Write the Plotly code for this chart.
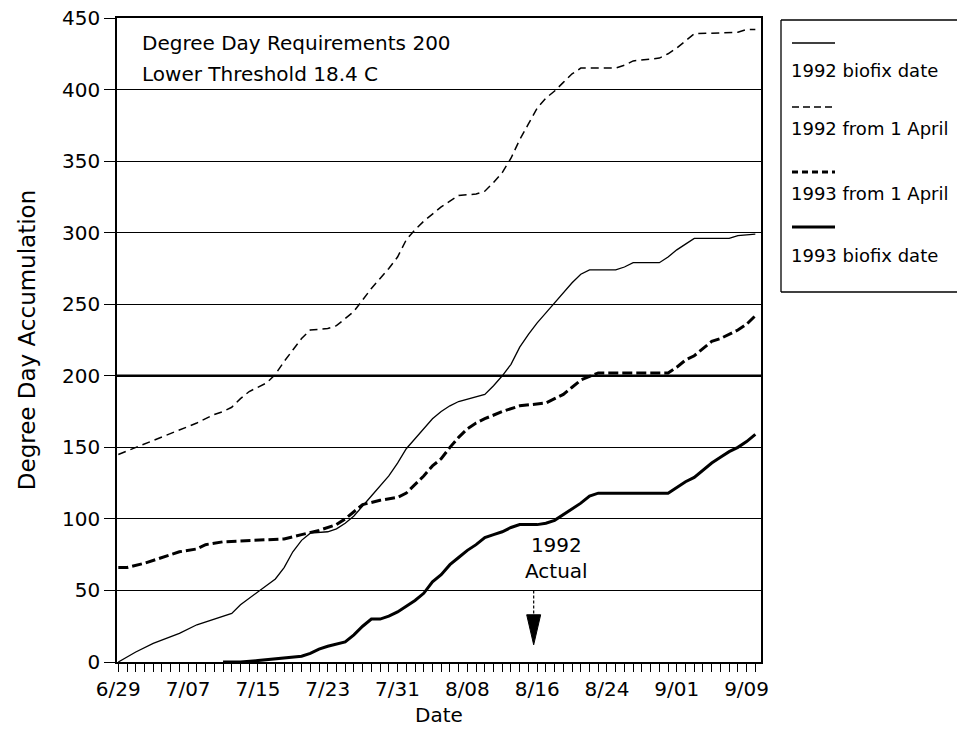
import plotly.graph_objects as go

# ---------------- data (day offsets from 6/29) ----------------
TICK_DAYS = [0, 8, 16, 24, 32, 40, 48, 56, 64, 72]
TICK_LABELS = ["6/29", "7/07", "7/15", "7/23", "7/31", "8/08", "8/16", "8/24", "9/01", "9/09"]
Y_TICKS = [0, 50, 100, 150, 200, 250, 300, 350, 400, 450]

# 1992 biofix date (thin solid)
b92_days = [0, 2, 4, 6, 7, 9, 11, 13, 14, 16, 18, 19, 20, 21, 22, 24, 25, 26, 27, 29, 31, 32, 33, 34,
            35, 36, 37, 38, 39, 41, 42, 43, 44, 45, 46, 47, 48, 49, 50, 51, 52, 53, 54, 57, 58, 59,
            62, 63, 64, 65, 66, 70, 71, 73]
b92_vals = [0, 7, 13, 18, 20, 26, 30, 34, 40, 49, 58, 66, 77, 85, 90, 91, 93, 97, 102, 116, 130, 139,
            149, 156, 163, 170, 175, 179, 182, 185, 187, 193, 200, 208, 220, 229, 237, 244, 251, 258,
            265, 271, 274, 274, 276, 279, 279, 283, 288, 292, 296, 296, 298, 299]

# 1992 from 1 April (thin dashed)
a92_days = [0, 2, 4, 6, 7, 9, 11, 12, 13, 14, 15, 17, 18, 19, 20, 21, 22, 24, 25, 26, 27, 28, 29, 30,
            31, 32, 33, 34, 35, 36, 37, 38, 39, 41, 42, 43, 44, 45, 46, 47, 48, 49, 50, 51, 52, 53,
            57, 58, 59, 62, 63, 64, 65, 66, 71, 72, 73]
a92_vals = [145, 150, 155, 160, 162, 167, 173, 175, 178, 184, 189, 195, 201, 210, 218, 226, 232, 233,
            235, 240, 245, 253, 261, 268, 275, 283, 295, 302, 308, 313, 318, 322, 326, 327, 329, 335,
            342, 352, 365, 376, 387, 394, 399, 405, 411, 415, 415, 417, 420, 422, 425, 429, 434, 439,
            440, 442, 442]

# 1993 from 1 April (thick dashed)
a93_days = [0, 1, 3, 5, 7, 9, 10, 12, 16, 19, 21, 23, 25, 26, 27, 28, 30, 32, 33, 34, 35, 36, 37, 38,
            39, 40, 41, 42, 44, 46, 48, 49, 50, 51, 52, 53, 55, 63, 64, 65, 66, 67, 68, 69, 70, 71,
            72, 73]
a93_vals = [66, 66, 69, 73, 77, 79, 82, 84, 85, 86, 89, 92, 96, 100, 105, 110, 113, 115, 118, 124, 130,
            137, 142, 150, 157, 163, 167, 170, 175, 179, 180, 181, 184, 187, 192, 197, 202, 202, 206,
            211, 214, 219, 224, 226, 229, 232, 236, 242]

# 1993 biofix date (thick solid)
b93_days = [12, 14, 16, 18, 19, 21, 22, 23, 24, 26, 27, 28, 29, 30, 31, 32, 33, 34, 35, 36, 37, 38,
            39, 40, 41, 42, 43, 44, 45, 46, 48, 49, 50, 51, 52, 53, 54, 55, 63, 64, 65, 66, 67, 68,
            69, 70, 71, 72, 73]
b93_vals = [0, 0, 1, 2, 3, 4, 6, 9, 11, 14, 19, 25, 30, 30, 32, 35, 39, 43, 48, 56, 61, 68, 73, 78,
            82, 87, 89, 91, 94, 96, 96, 97, 99, 103, 107, 111, 116, 118, 118, 122, 126, 129, 134,
            139, 143, 147, 150, 154, 159]

SERIES_NAMES = ["1992 biofix date", "1992 from 1 April", "1993 from 1 April", "1993 biofix date"]
REQUIREMENT = 200
ACTUAL_DAY = 47.6

# ---------------- layout geometry ----------------
W, H = 959, 736
PL, PR, PT, PB = 117, 761, 18, 662  # plot area in px
FONT = "DejaVu Sans"


def px(xp):
    return (xp - PL) / (PR - PL)


def py(yp):
    return (PB - yp) / (PB - PT)


styles = [
    dict(width=1.3, dash="solid"),
    dict(width=1.5, dash="8px,5px"),
    dict(width=3.0, dash="10px,4px"),
    dict(width=3.0, dash="solid"),
]
data = [(b92_days, b92_vals), (a92_days, a92_vals), (a93_days, a93_vals), (b93_days, b93_vals)]

fig = go.Figure()
for (d, v), name, st in zip(data, SERIES_NAMES, styles):
    fig.add_trace(go.Scatter(x=d, y=v, mode="lines", name=name, showlegend=False,
                             line=dict(color="black", width=st["width"], dash=st["dash"])))

shapes = []
# requirement line (thicker)
shapes.append(dict(type="line", xref="paper", x0=0, x1=1, yref="y", y0=REQUIREMENT, y1=REQUIREMENT,
                   line=dict(color="black", width=2.6), layer="below"))
# arrow for 1992 actual
shapes.append(dict(type="line", xref="x", yref="y", x0=ACTUAL_DAY, x1=ACTUAL_DAY, y0=50, y1=33,
                   line=dict(color="black", width=1.2, dash="3px,2px")))
shapes.append(dict(type="path", xref="x", yref="y",
                   path=f"M {ACTUAL_DAY-0.8},33 L {ACTUAL_DAY+0.8},33 L {ACTUAL_DAY},12 Z",
                   fillcolor="black", line=dict(color="black", width=1)))
# legend box, open on the right (it runs off the page in the original)
bx0, bx1, by0, by1 = px(781), px(957), py(292), py(20)
for (x0, y0, x1, y1) in [(bx0, by1, bx1, by1), (bx0, by0, bx1, by0), (bx0, by0, bx0, by1)]:
    shapes.append(dict(type="line", xref="paper", yref="paper", x0=x0, y0=y0, x1=x1, y1=y1,
                       line=dict(color="black", width=1.3)))
leg_line_y = [43, 107, 172, 227]
leg_text_y = [70, 128, 193, 255]
leg_dash = ["solid", "7px,4px", "6px,4px", "solid"]
leg_width = [1.3, 1.5, 3.0, 3.0]
annotations = []
for i, name in enumerate(SERIES_NAMES):
    shapes.append(dict(type="line", xref="paper", yref="paper", x0=px(792), x1=px(835),
                       y0=py(leg_line_y[i]), y1=py(leg_line_y[i]),
                       line=dict(color="black", width=leg_width[i], dash=leg_dash[i])))
    annotations.append(dict(xref="paper", yref="paper", x=px(789), y=py(leg_text_y[i]), text=name,
                            showarrow=False, xanchor="left", yanchor="middle",
                            font=dict(family=FONT, size=18, color="black")))

annotations.append(dict(xref="paper", yref="paper", x=px(140), y=py(43), text="Degree Day Requirements 200",
                        showarrow=False, xanchor="left", yanchor="middle",
                        font=dict(family=FONT, size=20, color="black")))
annotations.append(dict(xref="paper", yref="paper", x=px(140), y=py(74), text="Lower Threshold 18.4 C",
                        showarrow=False, xanchor="left", yanchor="middle",
                        font=dict(family=FONT, size=20, color="black")))
annotations.append(dict(xref="x", yref="y", x=50.2, y=73, text="1992<br>Actual", showarrow=False,
                        xanchor="center", yanchor="middle", align="center",
                        font=dict(family=FONT, size=20, color="black")))

fig.update_layout(
    width=W, height=H,
    margin=dict(l=PL, r=W - PR, t=PT, b=H - PB, autoexpand=False),
    paper_bgcolor="white", plot_bgcolor="white",
    font=dict(family=FONT, color="black"),
    shapes=shapes, annotations=annotations,
    showlegend=False,
)
fig.update_xaxes(
    range=[-0.15, 73.65], tickmode="array", tickvals=TICK_DAYS, ticktext=TICK_LABELS,
    ticks="outside", ticklen=8, tickwidth=1.2, tickcolor="black",
    minor=dict(dtick=1, tick0=0, ticks="outside", ticklen=8, tickwidth=1.2, tickcolor="black", showgrid=False),
    showgrid=False, zeroline=False, showline=True, linecolor="black", linewidth=1.5, mirror=True,
    tickfont=dict(family=FONT, size=20, color="black"),
    title=dict(text="Date", font=dict(family=FONT, size=20, color="black"), standoff=8),
)
fig.update_yaxes(
    range=[0, 450], tickmode="array", tickvals=Y_TICKS, ticks="outside", ticklen=11, tickwidth=1.2,
    tickcolor="black", showgrid=True, gridcolor="black", gridwidth=1.4, zeroline=False,
    showline=True, linecolor="black", linewidth=1.5, mirror=True,
    tickfont=dict(family=FONT, size=20, color="black"),
    title=dict(text="Degree Day Accumulation", font=dict(family=FONT, size=23, color="black"), standoff=20),
)

fig.write_html("out.html")
